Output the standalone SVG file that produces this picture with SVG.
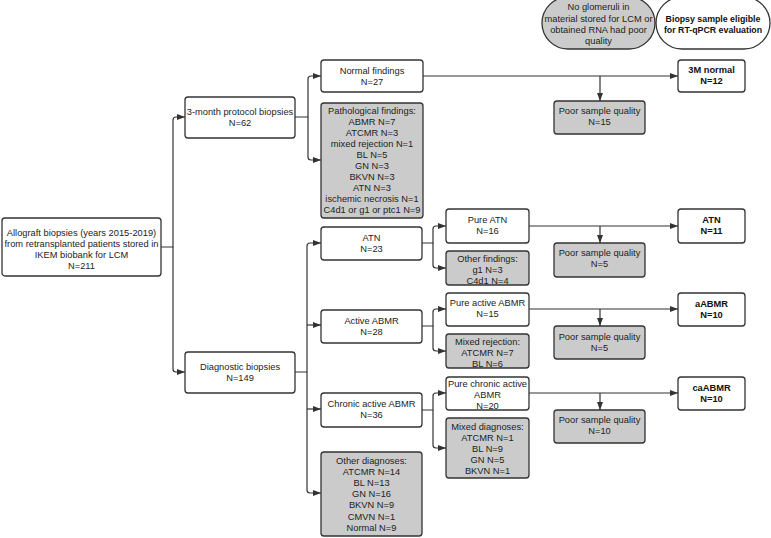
<svg xmlns="http://www.w3.org/2000/svg" width="771" height="538" viewBox="0 0 771 538">
<style>
.b{fill:#fff;stroke:#333;stroke-width:1.3}
.g{fill:#cbcbcb;stroke:#333;stroke-width:1.3}
text{font-family:"Liberation Sans",Arial,sans-serif;font-size:9.3px;fill:#222;text-anchor:middle}
.bd{font-weight:bold;fill:#111}
.lg{font-size:8.8px}
.c path{fill:none;stroke:#333;stroke-width:1.2}
</style>
<defs>
<marker id="ar" markerUnits="userSpaceOnUse" markerWidth="8" markerHeight="6" refX="8" refY="3" orient="auto">
<path d="M0,0 L8,3 L0,6 z" fill="#333"/>
</marker>
</defs>
<rect width="771" height="538" fill="#fff"/>
<g id="legend-poor">
<rect class="g" x="542" y="-3" width="113" height="52" rx="26"/>
<text x="598.5" y="10">No glomeruli in</text>
<text x="598.5" y="21.5">material stored for LCM or</text>
<text x="598.5" y="32.5">obtained RNA had poor</text>
<text x="598.5" y="44">quality</text>
</g>
<g id="legend-eligible">
<rect class="b" x="656" y="-3" width="114" height="52" rx="26"/>
<text class="bd lg" x="713" y="21.5">Biopsy sample eligible</text>
<text class="bd lg" x="713" y="32.5">for RT-qPCR evaluation</text>
</g>
<g class="c" id="connectors">
<path d="M161 247 H173 V120 Q173 117 176 117 H185" marker-end="url(#ar)"/>
<path d="M173 247 V369 Q173 372 176 372 H185" marker-end="url(#ar)"/>
<path d="M295 117 H308 V79 Q308 76 311 76 H321" marker-end="url(#ar)"/>
<path d="M308 117 V157 Q308 160 311 160 H321" marker-end="url(#ar)"/>
<path d="M423 76 H678" marker-end="url(#ar)"/>
<path d="M600 76 V101" marker-end="url(#ar)"/>
<path d="M295 372 H307 V246 Q307 243 310 243 H321" marker-end="url(#ar)"/>
<path d="M307 325 H321" marker-end="url(#ar)"/>
<path d="M307 372 V490 Q307 493 310 493 H321" marker-end="url(#ar)"/>
<path d="M307 409 H321" marker-end="url(#ar)"/>
<path d="M422 243 H433 V229 Q433 226 436 226 H446" marker-end="url(#ar)"/>
<path d="M433 243 V265 Q433 268 436 268 H446" marker-end="url(#ar)"/>
<path d="M529 226 H678" marker-end="url(#ar)"/>
<path d="M600 226 V243" marker-end="url(#ar)"/>
<path d="M422 326 H433 V312 Q433 309 436 309 H446" marker-end="url(#ar)"/>
<path d="M433 326 V348 Q433 351 436 351 H446" marker-end="url(#ar)"/>
<path d="M529 309 H678" marker-end="url(#ar)"/>
<path d="M600 309 V326" marker-end="url(#ar)"/>
<path d="M422 410 H433 V396 Q433 393 436 393 H446" marker-end="url(#ar)"/>
<path d="M433 410 V445 Q433 448 436 448 H446" marker-end="url(#ar)"/>
<path d="M529 393 H678" marker-end="url(#ar)"/>
<path d="M600 393 V410" marker-end="url(#ar)"/>
</g>
<g id="root">
<rect class="b" x="2" y="218" width="159" height="58" rx="3"/>
<text x="81.5" y="235.5">Allograft biopsies (years 2015-2019)</text>
<text x="81.5" y="246.5">from retransplanted patients stored in</text>
<text x="81.5" y="257.5">IKEM biobank for LCM</text>
<text x="81.5" y="268.5">N=211</text>
</g>
<g id="protocol">
<rect class="b" x="185" y="97" width="110" height="41" rx="3"/>
<text x="240" y="115">3-month protocol biopsies</text>
<text x="240" y="126">N=62</text>
</g>
<g id="diagnostic">
<rect class="b" x="185" y="352" width="110" height="41" rx="3"/>
<text x="240" y="369.5">Diagnostic biopsies</text>
<text x="240" y="380.5">N=149</text>
</g>
<g id="normal">
<rect class="b" x="321" y="60" width="102" height="32" rx="3"/>
<text x="372" y="73.5">Normal findings</text>
<text x="372" y="84.5">N=27</text>
</g>
<g id="patho">
<rect class="g" x="321" y="103" width="102" height="115" rx="3"/>
<text x="372" y="113.5">Pathological findings:</text>
<text x="372" y="124.6">ABMR N=7</text>
<text x="372" y="135.7">ATCMR N=3</text>
<text x="372" y="146.8">mixed rejection N=1</text>
<text x="372" y="157.9">BL N=5</text>
<text x="372" y="169">GN N=3</text>
<text x="372" y="180.1">BKVN N=3</text>
<text x="372" y="191.2">ATN N=3</text>
<text x="372" y="202.3">ischemic necrosis N=1</text>
<text x="372" y="213.4">C4d1 or g1 or ptc1 N=9</text>
</g>
<g id="poor1">
<rect class="g" x="554" y="101" width="91" height="33" rx="3"/>
<text x="599.5" y="113.5">Poor sample quality</text>
<text x="599.5" y="124.5">N=15</text>
</g>
<g id="fin3m">
<rect class="b" x="678" y="60" width="67" height="32" rx="3"/>
<text class="bd" x="711.5" y="72.5">3M normal</text>
<text class="bd" x="711.5" y="83.5">N=12</text>
</g>
<g id="atn">
<rect class="b" x="321" y="227" width="101" height="33" rx="3"/>
<text x="371.5" y="240.5">ATN</text>
<text x="371.5" y="251.5">N=23</text>
</g>
<g id="pureatn">
<rect class="b" x="446" y="209" width="83" height="34" rx="3"/>
<text x="487.5" y="223">Pure ATN</text>
<text x="487.5" y="234">N=16</text>
</g>
<g id="otherfind">
<rect class="g" x="446" y="251" width="83" height="34" rx="3"/>
<text x="487.5" y="261.5">Other findings:</text>
<text x="487.5" y="272.5">g1 N=3</text>
<text x="487.5" y="283.5">C4d1 N=4</text>
</g>
<g id="finatn">
<rect class="b" x="678" y="209" width="67" height="34" rx="3"/>
<text class="bd" x="711.5" y="222.5">ATN</text>
<text class="bd" x="711.5" y="233.5">N=11</text>
</g>
<g id="poor2">
<rect class="g" x="554" y="243" width="91" height="34" rx="3"/>
<text x="599.5" y="255.5">Poor sample quality</text>
<text x="599.5" y="266.5">N=5</text>
</g>
<g id="active">
<rect class="b" x="321" y="310" width="101" height="33" rx="3"/>
<text x="371.5" y="323.5">Active ABMR</text>
<text x="371.5" y="334.5">N=28</text>
</g>
<g id="pureactive">
<rect class="b" x="446" y="293" width="83" height="33" rx="3"/>
<text x="487.5" y="306">Pure active ABMR</text>
<text x="487.5" y="317">N=15</text>
</g>
<g id="mixedrej">
<rect class="g" x="446" y="334" width="83" height="34" rx="3"/>
<text x="487.5" y="345">Mixed rejection:</text>
<text x="487.5" y="356">ATCMR N=7</text>
<text x="487.5" y="366.5">BL N=6</text>
</g>
<g id="fina">
<rect class="b" x="678" y="293" width="67" height="33" rx="3"/>
<text class="bd" x="711.5" y="306.5">aABMR</text>
<text class="bd" x="711.5" y="317.5">N=10</text>
</g>
<g id="poor3">
<rect class="g" x="554" y="326" width="91" height="33" rx="3"/>
<text x="599.5" y="339.5">Poor sample quality</text>
<text x="599.5" y="350.5">N=5</text>
</g>
<g id="chronic">
<rect class="b" x="321" y="393" width="101" height="34" rx="3"/>
<text x="371.5" y="406.5">Chronic active ABMR</text>
<text x="371.5" y="417.5">N=36</text>
</g>
<g id="purechronic">
<rect class="b" x="446" y="377" width="83" height="33" rx="3"/>
<text x="487.5" y="386.5">Pure chronic active</text>
<text x="487.5" y="397.5">ABMR</text>
<text x="487.5" y="408.5">N=20</text>
</g>
<g id="mixeddiag">
<rect class="g" x="446" y="418" width="83" height="60" rx="3"/>
<text x="487.5" y="430">Mixed diagnoses:</text>
<text x="487.5" y="441">ATCMR N=1</text>
<text x="487.5" y="452">BL N=9</text>
<text x="487.5" y="463">GN N=5</text>
<text x="487.5" y="474">BKVN N=1</text>
</g>
<g id="finca">
<rect class="b" x="678" y="377" width="67" height="33" rx="3"/>
<text class="bd" x="711.5" y="390.5">caABMR</text>
<text class="bd" x="711.5" y="401.5">N=10</text>
</g>
<g id="poor4">
<rect class="g" x="554" y="410" width="91" height="33" rx="3"/>
<text x="599.5" y="422.5">Poor sample quality</text>
<text x="599.5" y="433.5">N=10</text>
</g>
<g id="otherdiag">
<rect class="g" x="321" y="452" width="101" height="84" rx="3"/>
<text x="371.5" y="464">Other diagnoses:</text>
<text x="371.5" y="475.1">ATCMR N=14</text>
<text x="371.5" y="486.2">BL N=13</text>
<text x="371.5" y="497.3">GN N=16</text>
<text x="371.5" y="508.4">BKVN N=9</text>
<text x="371.5" y="519.5">CMVN N=1</text>
<text x="371.5" y="530.6">Normal N=9</text>
</g>
</svg>
